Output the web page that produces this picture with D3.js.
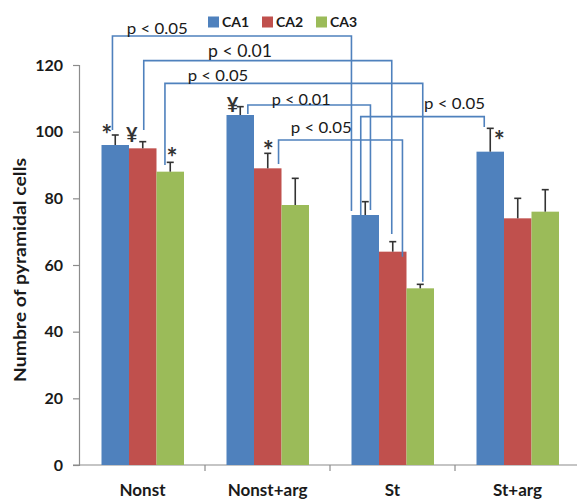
<!DOCTYPE html>
<html><head><meta charset="utf-8">
<script src="https://cdn.jsdelivr.net/npm/d3@7"></script>
<style>body{margin:0;background:#fff}svg{display:block}</style>
</head><body>
<script>
// ---- data ----
const categories = ["Nonst", "Nonst+arg", "St", "St+arg"];
const seriesNames = ["CA1", "CA2", "CA3"];
const ca1 = [96, 105, 75, 94];
const ca2 = [95, 89, 64, 74];
const ca3 = [88, 78, 53, 76];
const ca1Err = [3, 2.5, 4, 7];
const ca2Err = [2, 4.5, 3, 6];
const ca3Err = [2.8, 8, 1.2, 6.6];
const yTicks = [0, 20, 40, 60, 80, 100, 120];
const colors = ["#4F81BD", "#C0504D", "#9BBB59"];
const yTitle = "Numbre of pyramidal cells";

// significance marks above bars
const sigMarks = [
  {cat: "Nonst", s: "CA1", sym: "*"},
  {cat: "Nonst", s: "CA2", sym: "¥"},
  {cat: "Nonst", s: "CA3", sym: "*"},
  {cat: "Nonst+arg", s: "CA1", sym: "¥"},
  {cat: "Nonst+arg", s: "CA2", sym: "*"},
  {cat: "St+arg", s: "CA1", sym: "*"}
];
// comparison brackets: from/to bar, level (data units), leg ends (data units)
const brackets = [
  {from: ["Nonst", "CA1"], to: ["St", "CA1"], level: 128.7, endA: 100.5, endB: 76.2, label: "p < 0.05"},
  {from: ["Nonst", "CA2"], to: ["St", "CA2"], level: 121.3, endA: 100.5, endB: 69.3, label: "p < 0.01"},
  {from: ["Nonst", "CA3"], to: ["St", "CA3"], level: 114.5, endA: 90, endB: 55, label: "p < 0.05"},
  {from: ["Nonst+arg", "CA1"], to: ["St", "CA1"], level: 108, endA: 105.3, endB: 76.5, label: "p < 0.01"},
  {from: ["Nonst+arg", "CA2"], to: ["St", "CA2"], level: 97.5, endA: 90.3, endB: 62.5, label: "p < 0.05"},
  {from: ["St", "CA1"], to: ["St+arg", "CA1"], level: 104.5, endA: 74.8, endB: 101.4, label: "p < 0.05"}
];

// ---- layout (styling / placement) ----
const W = 577, H = 504;
const legX = [208, 262, 316];
const bracketLayout = [
  {dxA: -2.8, dxB: -13.8, lx: 157.2, ly: 34, fs: 16, w: 61},
  {dxA: 1, dxB: -1, lx: 240, ly: 57.3, fs: 18, w: 64},
  {dxA: -5.3, dxB: 2.5, lx: 218, ly: 81, fs: 16, w: 60.5},
  {dxA: 7.6, dxB: 5.2, lx: 301.2, ly: 105, fs: 16, w: 59},
  {dxA: 10.8, dxB: 9.7, lx: 321.2, ly: 132.7, fs: 16, w: 61},
  {dxA: -4.5, dxB: -6, lx: 454.5, ly: 109, fs: 16, w: 61}
];
const markLayout = [
  {dx: -8.5, dy: -4, fs: 26},
  {dx: -11, dy: -7, fs: 20},
  {dx: 1.7, dy: -8.7, fs: 26},
  {dx: -7.7, dy: -1.5, fs: 20},
  {dx: 0.5, dy: -6, fs: 26},
  {dx: 9, dy: 9, fs: 26}
];

const values = [ca1, ca2, ca3];
const errs = [ca1Err, ca2Err, ca3Err];

const svg = d3.select("body").append("svg").attr("width", W).attr("height", H)
  .style("font-family", "Lato, 'Open Sans', sans-serif");
svg.append("rect").attr("width", W).attr("height", H).attr("fill", "#fff");

const x0 = d3.scaleBand().domain(categories).range([80, 580]).padding(0);
const x1 = d3.scaleBand().domain(seriesNames).range([21.5, 104]).padding(0);
const y = d3.scaleLinear().domain([0, 120]).range([465, 65]);

const barCx = (cat, s) => x0(cat) + x1(s) + x1.bandwidth() / 2;
const idx = (cat) => categories.indexOf(cat);
const sIdx = (s) => seriesNames.indexOf(s);
const capY = (cat, s) => y(values[sIdx(s)][idx(cat)] + errs[sIdx(s)][idx(cat)]);

// y axis
const yAxis = d3.axisLeft(y).tickValues(yTicks).tickSize(6).tickPadding(10);
const gy = svg.append("g").attr("transform", "translate(79,0)").call(yAxis);
gy.select(".domain").attr("stroke", "#8c8c8c").attr("stroke-width", 1.2);
gy.selectAll(".tick line").attr("stroke", "#8c8c8c").attr("stroke-width", 1.2);
gy.selectAll(".tick text").attr("fill", "#1a1a1a").style("font-size", "16px").style("font-weight", "bold").style("font-family", "Lato, sans-serif");

// x axis
const gx = svg.append("g").attr("transform", "translate(0,465)")
  .call(d3.axisBottom(x0).tickSize(0).tickPadding(19));
gx.select(".domain").remove();
gx.selectAll(".tick text").attr("fill", "#1a1a1a").style("font-size", "17px").style("font-weight", "bold").style("font-family", "Lato, sans-serif");
svg.append("line").attr("x1", 73).attr("x2", W).attr("y1", 465).attr("y2", 465)
  .attr("stroke", "#8c8c8c").attr("stroke-width", 1.2);
svg.selectAll(".xb").data(categories.slice(1)).join("line").attr("class", "xb")
  .attr("x1", d => x0(d)).attr("x2", d => x0(d)).attr("y1", 465).attr("y2", 471)
  .attr("stroke", "#8c8c8c").attr("stroke-width", 1.2);

// y title
svg.append("text").attr("transform", "translate(19,270) rotate(-90)")
  .attr("text-anchor", "middle").attr("dominant-baseline", "central")
  .attr("textLength", 224).attr("lengthAdjust", "spacingAndGlyphs")
  .attr("fill", "#1a1a1a").style("font-size", "17px").style("font-weight", "bold").text(yTitle);

// bars
const rows = [];
categories.forEach((c, ci) => seriesNames.forEach((s, si) => rows.push({c, s, si, v: values[si][ci], e: errs[si][ci]})));
svg.append("g").selectAll("rect").data(rows).join("rect")
  .attr("x", d => x0(d.c) + x1(d.s)).attr("width", x1.bandwidth())
  .attr("y", d => y(d.v)).attr("height", d => y(0) - y(d.v))
  .attr("fill", d => colors[d.si]);

// error bars
const eg = svg.append("g").attr("stroke", "#333").attr("stroke-width", 1.6);
eg.selectAll(".ev").data(rows).join("line").attr("class", "ev")
  .attr("x1", d => barCx(d.c, d.s)).attr("x2", d => barCx(d.c, d.s))
  .attr("y1", d => y(d.v)).attr("y2", d => y(d.v + d.e));
eg.selectAll(".ec").data(rows).join("line").attr("class", "ec")
  .attr("x1", d => barCx(d.c, d.s) - 3.5).attr("x2", d => barCx(d.c, d.s) + 3.5)
  .attr("y1", d => y(d.v + d.e)).attr("y2", d => y(d.v + d.e));

// brackets
const bg = svg.append("g");
brackets.forEach((b, i) => {
  const L = bracketLayout[i];
  const xa = barCx(b.from[0], b.from[1]) + L.dxA;
  const xb = barCx(b.to[0], b.to[1]) + L.dxB;
  bg.append("path")
    .attr("d", `M${xa},${y(b.endA)}V${y(b.level)}H${xb}V${y(b.endB)}`)
    .attr("fill", "none").attr("stroke", "#4F81BD").attr("stroke-width", 1.6);
});
brackets.forEach((b, i) => {
  const L = bracketLayout[i];
  svg.append("text").attr("x", L.lx).attr("y", L.ly).attr("text-anchor", "middle")
    .attr("textLength", L.w).attr("lengthAdjust", "spacingAndGlyphs")
    .attr("fill", "#1a1a1a").style("font-size", L.fs + "px").text(b.label);
});

// significance marks
sigMarks.forEach((m, i) => {
  const L = markLayout[i];
  const cx = barCx(m.cat, m.s) + L.dx;
  const cy = capY(m.cat, m.s) + L.dy;
  const base = m.sym === "*" ? cy + 0.5 * L.fs : cy + 0.36 * L.fs;
  svg.append("text").attr("x", cx).attr("y", base).attr("text-anchor", "middle")
    .attr("fill", "#333").style("font-size", L.fs + "px").style("font-weight", "bold").text(m.sym);
});

// legend
const lg = svg.append("g");
seriesNames.forEach((s, i) => {
  lg.append("rect").attr("x", legX[i]).attr("y", 16.5).attr("width", 11).attr("height", 11).attr("fill", colors[i]);
  lg.append("text").attr("x", legX[i] + 14).attr("y", 26.5).attr("fill", "#1a1a1a")
    .style("font-size", "14px").style("font-weight", "bold").text(s);
});
</script>
</body></html>
